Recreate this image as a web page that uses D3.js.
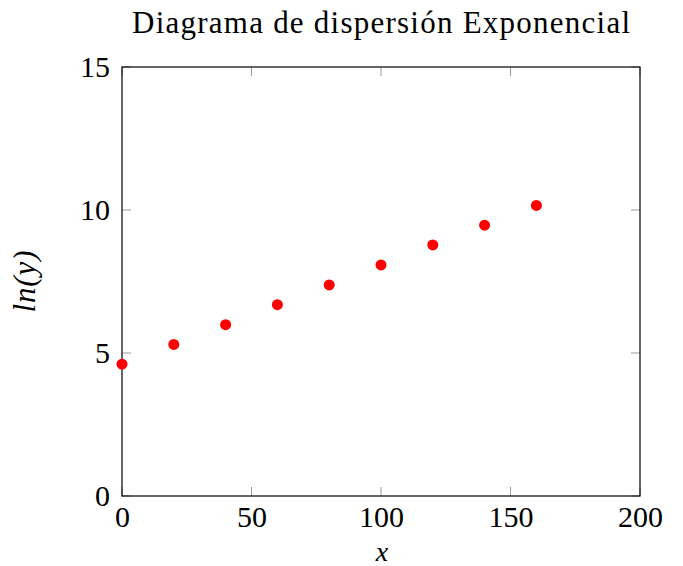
<!DOCTYPE html>
<html><head><meta charset="utf-8">
<script src="https://cdn.jsdelivr.net/npm/d3@7"></script>
<style>body{margin:0;background:#fff}svg{display:block}</style>
</head><body>
<svg id="c" width="683" height="566"></svg>
<script>
const xValues = [0, 20, 40, 60, 80, 100, 120, 140, 160];
const lnYValues = [4.61, 5.30, 5.99, 6.69, 7.38, 8.08, 8.78, 9.47, 10.16];
const xTicks = [0, 50, 100, 150, 200];
const yTicks = [0, 5, 10, 15];
const title = "Diagrama de dispersión Exponencial";
const xLabel = "x";
const yLabel = "ln(y)";

const svg = d3.select("#c");
const L = 122, R = 640, T = 67, B = 496;
const x = d3.scaleLinear().domain([0, 200]).range([L, R]);
const y = d3.scaleLinear().domain([0, 15]).range([B, T]);
const font = "'Liberation Serif', 'DejaVu Serif', serif";
const fs = 30;
const tl = 9;

// ticks inside on all four sides
const gt = svg.append("g").attr("stroke", "#999").attr("stroke-width", 1);
xTicks.forEach(v => {
  gt.append("line").attr("x1", x(v)).attr("x2", x(v)).attr("y1", B).attr("y2", B - tl);
  gt.append("line").attr("x1", x(v)).attr("x2", x(v)).attr("y1", T).attr("y2", T + tl);
});
yTicks.forEach(v => {
  gt.append("line").attr("y1", y(v)).attr("y2", y(v)).attr("x1", L).attr("x2", L + tl);
  gt.append("line").attr("y1", y(v)).attr("y2", y(v)).attr("x1", R).attr("x2", R - tl);
});

// frame
svg.append("rect").attr("x", L).attr("y", T).attr("width", R - L).attr("height", B - T)
  .attr("fill", "none").attr("stroke", "#000").attr("stroke-width", 1.2);

// tick labels via axes (lines hidden)
const ax = svg.append("g").attr("transform", `translate(0,${B})`)
  .call(d3.axisBottom(x).tickValues(xTicks).tickSize(0).tickPadding(0).tickFormat(d3.format("d")));
const ay = svg.append("g").attr("transform", `translate(${L},0)`)
  .call(d3.axisLeft(y).tickValues(yTicks).tickSize(0).tickPadding(12).tickFormat(d3.format("d")));
[ax, ay].forEach(g => {
  g.select(".domain").remove();
  g.selectAll("text").attr("font-family", font).attr("font-size", fs).attr("fill", "#000");
});
ax.selectAll("text").attr("y", 31).attr("dy", 0);

// points
svg.append("g").selectAll("circle").data(xValues).join("circle")
  .attr("cx", (d) => x(d)).attr("cy", (d, i) => y(lnYValues[i]))
  .attr("r", 5.5).attr("fill", "#ff0000");

// title
svg.append("text").attr("x", (L + R) / 2).attr("y", 33).attr("text-anchor", "middle")
  .attr("font-family", font).attr("font-size", 31).attr("fill", "#000")
  .attr("textLength", 498).attr("lengthAdjust", "spacing").text(title);

// axis labels
svg.append("text").attr("x", 382).attr("y", 561).attr("text-anchor", "middle")
  .attr("font-family", font).attr("font-style", "italic").attr("font-size", 28).text(xLabel);
svg.append("text").attr("transform", `translate(35,${(T + B) / 2}) rotate(-90)`)
  .attr("text-anchor", "middle")
  .attr("font-family", font).attr("font-style", "italic").attr("font-size", 31)
  .attr("textLength", 62).attr("lengthAdjust", "spacing").text(yLabel);
</script>
</body></html>
